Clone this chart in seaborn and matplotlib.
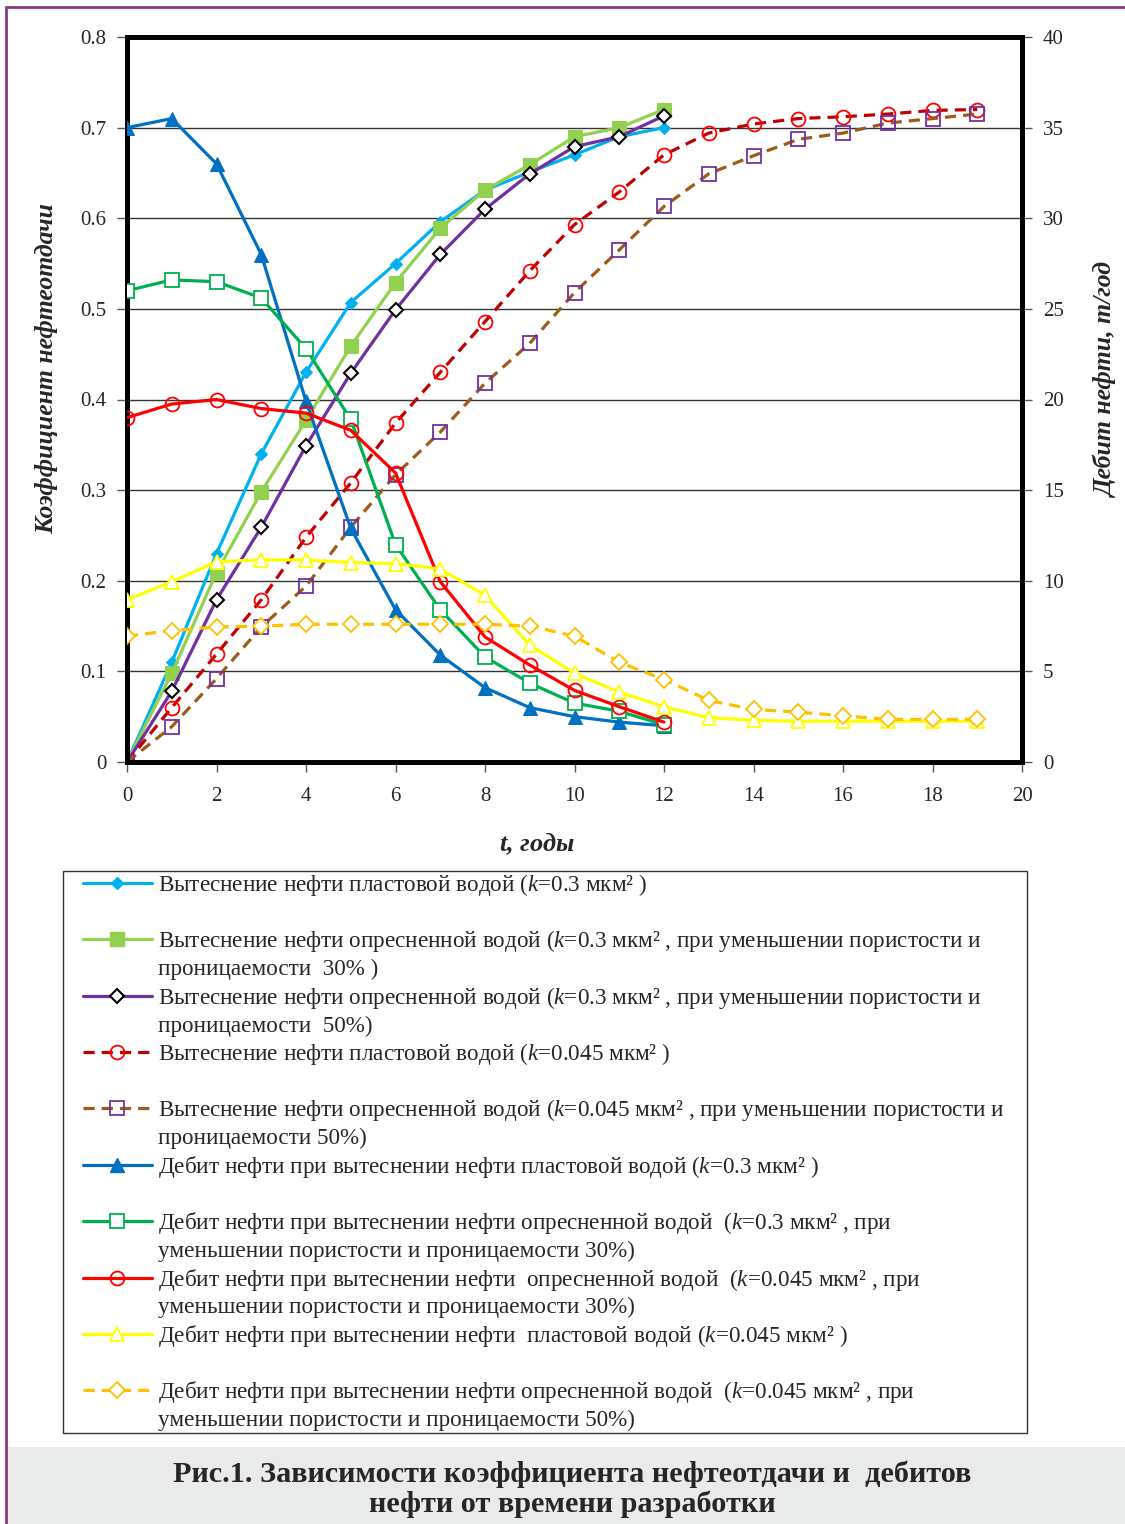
import matplotlib
matplotlib.use("Agg")

import matplotlib.pyplot as plt
from matplotlib.lines import Line2D
from matplotlib.patches import Rectangle
import seaborn as sns

sns.set_theme(style="white")
plt.rcParams['font.family'] = ['Liberation Serif', 'DejaVu Serif']
plt.rcParams['mathtext.fontset'] = 'custom'
plt.rcParams['mathtext.rm'] = 'Liberation Serif'
plt.rcParams['mathtext.it'] = 'Liberation Serif:italic'
plt.rcParams['mathtext.bf'] = 'Liberation Serif:bold:italic'

# Время, годы
t12 = list(range(13))
t19 = list(range(20))

# Коэффициент нефтеотдачи (левая ось)
kn_plast_03 = [0, 0.11, 0.23, 0.34, 0.43, 0.507, 0.55, 0.596, 0.631, 0.651, 0.67, 0.69, 0.70]
kn_opr_03_30 = [0, 0.098, 0.209, 0.298, 0.377, 0.459, 0.529, 0.589, 0.631, 0.659, 0.69, 0.70, 0.72]
kn_opr_03_50 = [0, 0.078, 0.179, 0.259, 0.349, 0.429, 0.499, 0.56, 0.61, 0.649, 0.679, 0.69, 0.713]
kn_plast_0045 = [0, 0.06, 0.119, 0.179, 0.248, 0.308, 0.374, 0.43, 0.486, 0.542, 0.593, 0.629,
                 0.67, 0.694, 0.704, 0.71, 0.712, 0.715, 0.719, 0.72]
kn_opr_0045_50 = [0, 0.039, 0.092, 0.149, 0.194, 0.259, 0.317, 0.364, 0.418, 0.462, 0.518, 0.565,
                  0.613, 0.649, 0.669, 0.687, 0.694, 0.705, 0.71, 0.715]

# Дебит нефти, т/год (правая ось)
q_plast_03 = [35, 35.5, 33, 28, 19.9, 12.9, 8.4, 5.9, 4.1, 3.0, 2.5, 2.2, 2.0]
q_opr_03_30 = [26, 26.6, 26.5, 25.6, 22.8, 18.9, 12, 8.4, 5.8, 4.35, 3.25, 2.8, 2.05]
q_opr_0045_30 = [19, 19.75, 20, 19.5, 19.25, 18.3, 15.95, 9.95, 6.9, 5.35, 3.95, 3.05, 2.2]
q_plast_0045 = [8.95, 9.95, 11.05, 11.15, 11.15, 11.0, 10.95, 10.65, 9.2, 6.45, 4.9, 3.85, 3.05,
                2.45, 2.3, 2.25, 2.25, 2.25, 2.25, 2.25]
q_opr_0045_50 = [6.95, 7.25, 7.45, 7.5, 7.6, 7.6, 7.6, 7.6, 7.6, 7.5, 6.95, 5.5, 4.55, 3.4, 2.9,
                 2.75, 2.55, 2.35, 2.35, 2.35]

K03 = r"($\mathit{k}$=0.3 мкм²"
K0045 = r"($\mathit{k}$=0.045 мкм²"
labels = [
    ["Вытеснение нефти пластовой водой " + K03 + " )", ""],
    ["Вытеснение нефти опресненной водой " + K03 + " , при уменьшении пористости и", "проницаемости  30% )"],
    ["Вытеснение нефти опресненной водой " + K03 + " , при уменьшении пористости и", "проницаемости  50%)"],
    ["Вытеснение нефти пластовой водой " + K0045 + " )", ""],
    ["Вытеснение нефти опресненной водой " + K0045 + " , при уменьшении пористости и", "проницаемости 50%)"],
    ["Дебит нефти при вытеснении нефти пластовой водой " + K03 + " )", ""],
    ["Дебит нефти при вытеснении нефти опресненной водой  " + K03 + " , при", "уменьшении пористости и проницаемости 30%)"],
    ["Дебит нефти при вытеснении нефти  опресненной водой  " + K0045 + " , при", "уменьшении пористости и проницаемости 30%)"],
    ["Дебит нефти при вытеснении нефти  пластовой водой " + K0045 + " )", ""],
    ["Дебит нефти при вытеснении нефти опресненной водой  " + K0045 + " , при", "уменьшении пористости и проницаемости 50%)"],
]

W, H = 1125, 1524
fig = plt.figure(figsize=(W / 100, H / 100), dpi=100)
fig.patch.set_facecolor("white")

# рамка страницы, подложка подписи, рамка легенды
fig.add_artist(Rectangle((8 / W, 0), 1 - 8 / W, 77 / H, transform=fig.transFigure,
                         facecolor="#e9ebea", edgecolor="none", zorder=0))
fig.add_artist(Line2D([6 / W, 6 / W], [0, 1 - 7 / H], transform=fig.transFigure,
                      color="#8b3a7e", lw=2))
fig.add_artist(Line2D([6 / W, 1], [1 - 7 / H, 1 - 7 / H], transform=fig.transFigure,
                      color="#8b3a7e", lw=2))
fig.add_artist(Rectangle((63 / W, 1 - 1433 / H), 964 / W, 562 / H, transform=fig.transFigure,
                         facecolor="none", edgecolor="#333333", lw=1))

ax = fig.add_axes([127 / W, 1 - 762 / H, 895 / W, 725 / H])
ax2 = ax.twinx()

LW = 2.3
styles1 = [
    (kn_plast_03, t12, dict(color="#00b0f0", marker="D", ms=6, mfc="#00b0f0", mec="#00b0f0", ls="-")),
    (kn_opr_03_30, t12, dict(color="#92d050", marker="s", ms=10, mfc="#92d050", mec="#92d050", ls="-")),
    (kn_opr_03_50, t12, dict(color="#7030a0", marker="D", ms=7, mfc="white", mec="black", mew=1.5, ls="-")),
    (kn_plast_0045, t19, dict(color="#c00000", marker="o", ms=10, mfc="none", mec="#ff0000", mew=1.3,
                              ls=(0, (3.5, 2.2)))),
    (kn_opr_0045_50, t19, dict(color="#9c5b1a", marker="s", ms=10, mfc="none", mec="#7030a0", mew=1.3,
                               ls=(0, (3.5, 2.2)))),
]
styles2 = [
    (q_plast_03, t12, dict(color="#0070c0", marker="^", ms=10, mfc="#0070c0", mec="#0070c0", ls="-")),
    (q_opr_03_30, t12, dict(color="#00b050", marker="s", ms=10, mfc="white", mec="#00b050", mew=1.3, ls="-")),
    (q_opr_0045_30, t12, dict(color="#ff0000", marker="o", ms=10, mfc="none", mec="#ff0000", mew=1.3, ls="-")),
    (q_plast_0045, t19, dict(color="#ffff00", marker="^", ms=10, mfc="white", mec="#ffff00", mew=1.3, ls="-")),
    (q_opr_0045_50, t19, dict(color="#ffc000", marker="D", ms=8, mfc="white", mec="#ffc000", mew=1.3,
                              ls=(0, (3.5, 2.2)))),
]

handles = []
for vals, tt, st in styles1:
    sns.lineplot(x=tt, y=vals, ax=ax, lw=LW, legend=False, zorder=3, **st)
    handles.append(Line2D([], [], lw=LW, **st))
for vals, tt, st in styles2:
    sns.lineplot(x=tt, y=vals, ax=ax2, lw=LW, legend=False, zorder=3, **st)
    handles.append(Line2D([], [], lw=LW, **st))

ax.set_xlim(0, 20)
ax.set_ylim(0, 0.8)
ax2.set_ylim(0, 40)
ax.set_xticks(range(0, 21, 2))
ax.set_yticks([i / 10 for i in range(9)])
ax.set_yticklabels(["0"] + [f"{i / 10:.1f}" for i in range(1, 9)])
ax2.set_yticks(range(0, 41, 5))

for yv in [i / 10 for i in range(1, 8)]:
    ax.axhline(yv, color="#333333", lw=1, zorder=1)

for a in (ax, ax2):
    for s in a.spines.values():
        s.set_linewidth(3.5)
        s.set_color("black")
ax.tick_params(axis="both", direction="out", length=7, width=1, color="#555555",
               labelsize=15, pad=8, left=True, bottom=True)
ax.tick_params(axis="x", pad=11)
ax2.tick_params(axis="y", direction="out", length=7, width=1, color="#555555",
                labelsize=15, pad=8, right=True)

ax.set_xlabel(r"$\mathbf{t}$, годы", fontsize=19, fontweight="bold", style="italic")
ax.set_ylabel("Коэффициент нефтеотдачи", fontsize=18.5, fontweight="bold", style="italic")
ax2.set_ylabel("Дебит нефти, т/год", fontsize=18.5, fontweight="bold", style="italic")
ax.xaxis.set_label_coords(0.458, -0.095)
ax.yaxis.set_label_coords(-0.077, 0.543)
ax2.yaxis.set_label_coords(1.0805, 0.527)

# легенда: по две строки на серию
leg_handles, leg_labels = [], []
for h, (l1, l2) in zip(handles, labels):
    leg_handles += [h, Line2D([], [], ls="none")]
    leg_labels += [l1, l2]

fig.legend(leg_handles, leg_labels, loc="upper left",
           bbox_to_anchor=(83 / W, 1 - 872 / H), bbox_transform=fig.transFigure,
           frameon=False, fontsize=16.7, handlelength=2.97, handletextpad=0.26,
           labelspacing=0.197, borderpad=0, borderaxespad=0, numpoints=1)

fig.text(572 / W, 1 - 1489 / H,
         "Рис.1. Зависимости коэффициента нефтеотдачи и  дебитов\nнефти от времени разработки",
         ha="center", va="center", fontsize=21.8, fontweight="bold", linespacing=1.12)

fig.savefig("out.png", dpi=100)
